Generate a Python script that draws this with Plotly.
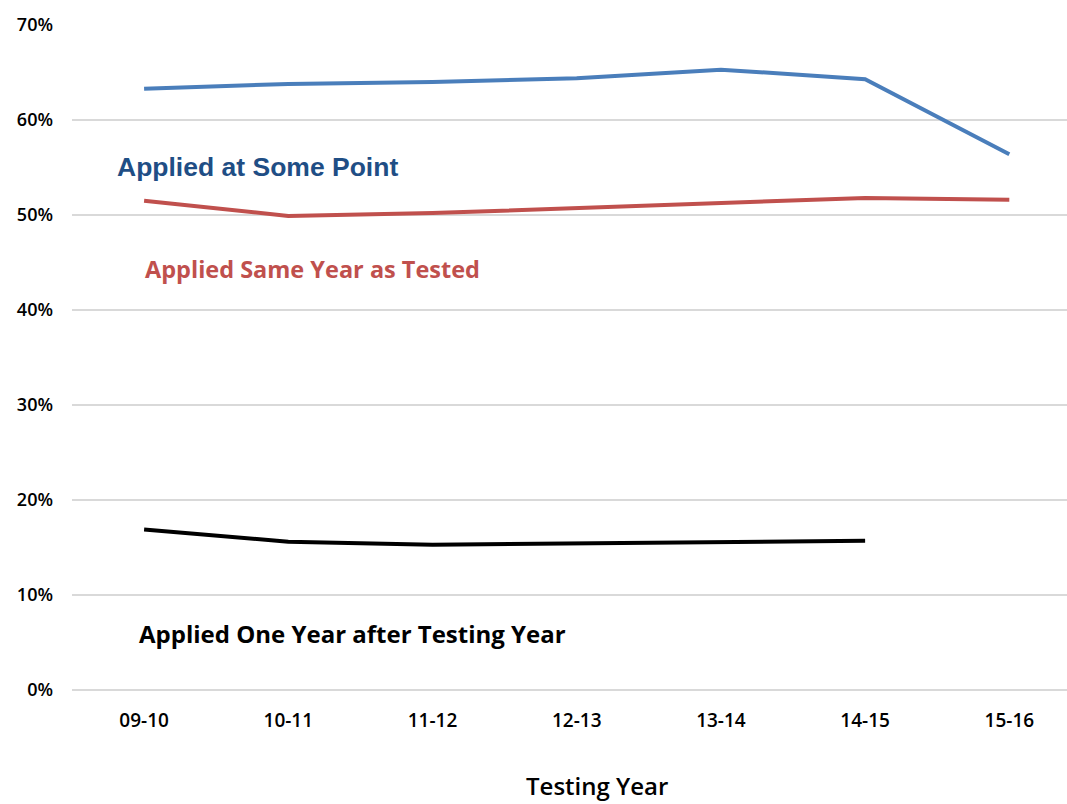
import plotly.graph_objects as go

years = ["09-10", "10-11", "11-12", "12-13", "13-14", "14-15", "15-16"]
some_point = [63.3, 63.8, 64.0, 64.4, 65.3, 64.3, 56.4]
same_year = [51.5, 49.9, 50.2, 50.7, 51.3, 51.8, 51.6]
one_year_after = [16.9, 15.6, 15.3, 15.4, 15.5, 15.7]

y_ticks = [0, 10, 20, 30, 40, 50, 60, 70]
y_tick_text = [f"{v}%" for v in y_ticks]

BLUE = "#4a7ebb"
RED = "#c0504d"
BLACK = "#000000"
SANS = "Open Sans"

fig = go.Figure()
fig.add_trace(go.Scatter(x=years, y=some_point, mode="lines",
                         line=dict(color=BLUE, width=4), hoverinfo="skip"))
fig.add_trace(go.Scatter(x=years, y=same_year, mode="lines",
                         line=dict(color=RED, width=4), hoverinfo="skip"))
fig.add_trace(go.Scatter(x=years[:len(one_year_after)], y=one_year_after, mode="lines",
                         line=dict(color=BLACK, width=4), hoverinfo="skip"))

labels = [
    dict(text="<b>Applied at Some Point</b>", x=-0.2, y=55.1,
         font=dict(family="Liberation Sans, Arial", size=26.5, color="#1f4e85")),
    dict(text="Applied Same Year as Tested", x=-0.01, y=44.3,
         font=dict(family=SANS, size=23.5, color=RED, weight=700)),
    dict(text="Applied One Year after Testing Year", x=-0.05, y=6.0,
         font=dict(family=SANS, size=24, color=BLACK, weight=700)),
]
for lab in labels:
    fig.add_annotation(text=lab["text"], x=lab["x"], y=lab["y"], xref="x", yref="y",
                       xanchor="left", yanchor="middle", showarrow=False,
                       font=lab["font"])

# x-axis title, positioned in paper coordinates below the tick labels
fig.add_annotation(text="Testing Year", xref="paper", yref="paper",
                   x=(597 - 72) / (1067 - 72), y=-(785 - 690) / (690 - 25),
                   xanchor="center", yanchor="middle", showarrow=False,
                   font=dict(family=SANS, size=24, color=BLACK, weight=600))

fig.update_layout(
    width=1067, height=804,
    margin=dict(l=72, r=0, t=25, b=114),
    paper_bgcolor="white", plot_bgcolor="white",
    showlegend=False,
    font=dict(family=SANS, color=BLACK),
)
fig.update_xaxes(
    type="category", range=[-0.5, 6.4],
    showgrid=False, showline=False, zeroline=False,
    tickfont=dict(family=SANS, size=19, color=BLACK, weight=600),
    ticklabelstandoff=17,
)
fig.update_yaxes(
    range=[0, 70], tickvals=y_ticks, ticktext=y_tick_text,
    showgrid=True, gridcolor="#d9d9d9", gridwidth=1.5,
    zeroline=True, zerolinecolor="#d9d9d9", zerolinewidth=2,
    showline=False,
    tickfont=dict(family=SANS, size=18, color=BLACK, weight=600),
    ticklabelstandoff=18,
)

fig.write_html("out.html")
